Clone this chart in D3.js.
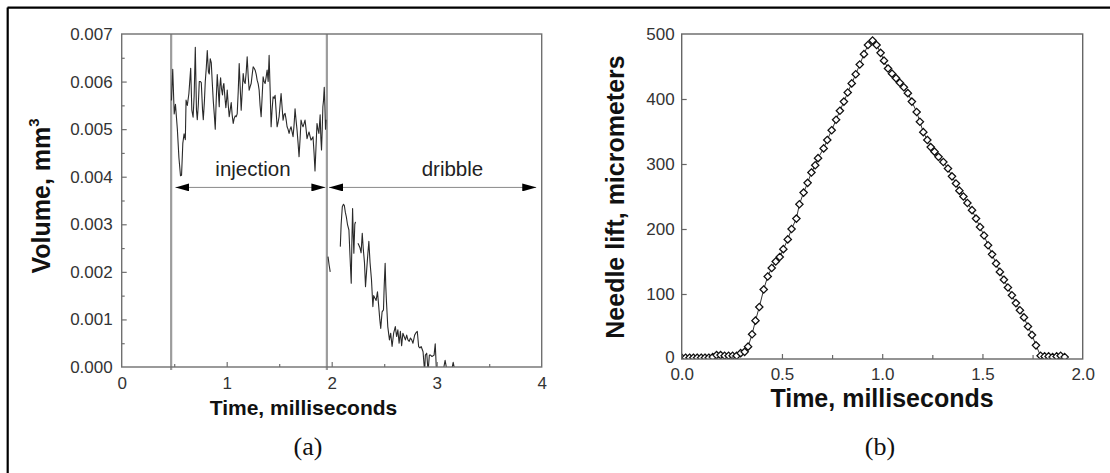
<!DOCTYPE html>
<html>
<head>
<meta charset="utf-8">
<script src="https://cdn.jsdelivr.net/npm/d3@7"></script>
<style>
  html, body { margin: 0; padding: 0; background: #fff; }
  svg { display: block; }
  .tick text { font-family: "Liberation Sans", Arial, sans-serif; fill: #333; }
</style>
</head>
<body>
<svg id="chart" width="1110" height="473"></svg>
<script>
// ---------- Panel (a): volume vs time ----------
const volumeTime = [
  0.474,0.486,0.500,0.512,0.530,0.545,0.560,0.570,0.582,0.594,0.606,0.613,0.625,0.640,0.657,0.668,0.680,0.690,0.701,0.712,
  0.720,0.730,0.739,0.750,0.758,0.770,0.777,0.788,0.796,0.806,0.815,0.826,0.834,0.843,0.853,0.862,0.872,0.882,0.891,0.900,
  0.910,0.920,0.929,0.935,0.942,0.950,0.960,0.966,0.973,0.982,0.992,1.000,1.005,1.015,1.024,1.033,1.043,1.052,1.062,1.071,
  1.081,1.090,1.100,1.110,1.119,1.128,1.138,1.148,1.157,1.166,1.176,1.186,1.195,1.205,1.214,1.224,1.233,1.243,1.252,1.262,
  1.271,1.281,1.290,1.300,1.309,1.318,1.328,1.338,1.347,1.356,1.366,1.376,1.385,1.395,1.404,1.414,1.423,1.432,1.442,1.452,
  1.461,1.470,1.480,1.490,1.499,1.508,1.518,1.528,1.537,1.546,1.556,1.566,1.575,1.584,1.594,1.604,1.613,1.622,1.632,1.642,
  1.651,1.660,1.670,1.680,1.689,1.699,1.708,1.718,1.727,1.737,1.746,1.756,1.765,1.775,1.784,1.794,1.803,1.813,1.822,1.832,
  1.841,1.850,1.860,1.869,1.878,1.890,1.897,1.903,1.910,1.916,1.922,1.929,1.935,1.941,1.946,
  1.955,
  1.965,1.975,1.986,
  2.030,
  2.082,2.090,2.101,2.112,2.120,2.130,2.139,2.150,2.164,2.175,2.186,2.192,2.199,2.205,2.211,2.220,2.227,
  2.238,
  2.250,2.259,2.270,2.280,2.291,2.300,2.312,2.322,2.335,2.345,2.354,2.365,2.379,2.392,2.400,2.411,2.423,2.436,2.448,2.458,
  2.467,2.480,2.493,2.500,2.509,2.515,2.521,2.534,2.550,2.562,2.575,2.590,2.606,2.618,2.630,2.642,2.654,2.666,2.678,2.690,
  2.702,2.714,2.726,2.738,2.750,2.762,2.774,2.790,2.800,2.815,2.828,2.840,2.852,2.870,2.885,2.892,2.905,2.918,2.930,2.942,
  2.955,2.975,2.986,2.998,3.010,3.040,3.060,3.080,3.100,3.140,3.157,3.175
];
const volume = [
  0.00560,0.00626,0.00532,0.00552,0.00500,0.00440,0.00402,0.00403,0.00470,0.00490,0.00478,0.00561,0.00550,0.00575,0.00628,0.00540,0.00525,0.00570,0.00672,0.00540,
  0.00520,0.00553,0.00600,0.00600,0.00598,0.00540,0.00520,0.00560,0.00600,0.00630,0.00665,0.00620,0.00616,0.00648,0.00640,0.00600,0.00560,0.00530,0.00500,0.00560,
  0.00615,0.00580,0.00547,0.00590,0.00608,0.00585,0.00572,0.00590,0.00596,0.00570,0.00545,0.00565,0.00582,0.00550,0.00526,0.00540,0.00556,0.00530,0.00512,0.00522,
  0.00528,0.00526,0.00532,0.00580,0.00638,0.00590,0.00540,0.00580,0.00617,0.00600,0.00596,0.00620,0.00652,0.00610,0.00582,0.00590,0.00596,0.00615,0.00631,0.00628,
  0.00624,0.00615,0.00603,0.00595,0.00582,0.00550,0.00526,0.00570,0.00610,0.00600,0.00596,0.00610,0.00624,0.00600,0.00655,0.00580,0.00505,0.00540,0.00568,0.00565,
  0.00571,0.00540,0.00505,0.00515,0.00526,0.00550,0.00575,0.00545,0.00519,0.00530,0.00533,0.00520,0.00505,0.00500,0.00491,0.00500,0.00505,0.00495,0.00484,0.00510,
  0.00543,0.00520,0.00498,0.00470,0.00442,0.00480,0.00519,0.00510,0.00505,0.00512,0.00519,0.00500,0.00480,0.00488,0.00494,0.00485,0.00477,0.00480,0.00484,0.00450,
  0.00412,0.00460,0.00512,0.00500,0.00491,0.00530,0.00480,0.00456,0.00500,0.00547,0.00560,0.00588,0.00550,0.00500,0.00520,
  null,
  0.00232,0.00215,0.00200,
  null,
  0.00253,0.00300,0.00337,0.00342,0.00340,0.00325,0.00316,0.00300,0.00288,0.00230,0.00176,0.00260,0.00333,0.00280,0.00239,0.00300,0.00305,
  null,
  0.00260,0.00256,0.00250,0.00240,0.00281,0.00250,0.00220,0.00169,0.00210,0.00240,0.00264,0.00220,0.00183,0.00127,0.00150,0.00145,0.00140,0.00158,0.00127,0.00100,
  0.00081,0.00116,0.00120,0.00170,0.00218,0.00170,0.00140,0.00085,0.00057,0.00071,0.00043,0.00071,0.00085,0.00064,0.00078,0.00050,0.00075,0.00045,0.00071,0.00064,
  0.00057,0.00067,0.00057,0.00054,0.00061,0.00057,0.00050,0.00067,0.00071,0.00075,0.00043,0.00040,0.00043,0.00032,-0.00010,0.00025,0.00029,-0.00010,0.00025,0.00025,
  0.00022,0.00025,0.00049,-0.00010,-0.00010,-0.00010,-0.00010,0.00014,-0.00010,-0.00010,0.00010,-0.00010
];
const volumeTicks = [0, 0.001, 0.002, 0.003, 0.004, 0.005, 0.006, 0.007];
const volumeMinorTicks = [0.0005, 0.0015, 0.0025, 0.0035, 0.0045, 0.0055, 0.0065];
const timeTicksA = [0, 1, 2, 3, 4];
const timeMinorTicksA = [0.5, 1.5, 2.5, 3.5];
const phaseBoundaries = [0.471, 1.954];
const phaseLabels = ["injection", "dribble"];
const phaseLabelTime = [1.25, 3.15];
const phaseArrowStart = [0.512, 1.974];
const phaseArrowEnd = [1.940, 3.948];
const phaseArrowLevel = 0.003775;
const phaseLabelLevel = 0.00401;

// ---------- Panel (b): needle lift vs time ----------
const needleTime = [
  0.000,0.019,0.039,0.058,0.077,0.097,0.116,0.135,0.155,0.174,
  0.194,0.214,0.234,0.254,0.274,0.294,0.314,0.331,0.351,0.368,
  0.387,0.409,0.429,0.449,0.469,0.489,0.507,0.529,0.548,0.572,
  0.587,0.608,0.628,0.647,0.666,0.680,0.708,0.726,0.748,0.770,
  0.789,0.809,0.828,0.848,0.868,0.888,0.909,0.929,0.952,0.972,
  0.992,1.009,1.029,1.049,1.069,1.088,1.108,1.128,1.148,1.172,
  1.188,1.205,1.225,1.242,1.261,1.281,1.305,1.328,1.348,1.368,
  1.385,1.405,1.425,1.448,1.468,1.488,1.508,1.528,1.548,1.568,
  1.587,1.607,1.627,1.647,1.667,1.687,1.707,1.727,1.747,1.767,
  1.790,1.810,1.830,1.850,1.870,1.890,1.910
];
const needleLift = [
  2,2,2,2,2,2,2,2,3,6,
  6,5,5,5,5,9,11,19,38,59,
  80,107,127,140,150,157,169,184,200,216,
  238,256,271,287,298,309,324,337,352,368,
  382,396,410,424,438,453,469,483,490,483,
  471,459,447,439,432,425,418,409,396,380,
  365,349,337,326,319,311,303,293,281,270,
  259,250,240,229,216,203,190,175,161,147,
  134,122,110,98,86,75,64,50,37,21,
  5,4,4,3,4,5,3
];
const liftTicks = [0, 100, 200, 300, 400, 500];
const timeTicksB = [0, 0.5, 1.0, 1.5, 2.0];
const timeMinorTicksB = [0.25, 0.75, 1.25, 1.75];

// ---------- Drawing ----------
const svg = d3.select("#chart");
const FONT = '"Liberation Sans", Arial, Helvetica, sans-serif';
const SERIF = '"Liberation Serif", "Times New Roman", serif';

svg.append("rect").attr("width", 1110).attr("height", 473).attr("fill", "#fff");
// outer figure border (top & left visible)
svg.append("line").attr("x1", 7.5).attr("x2", 1110).attr("y1", 7.7).attr("y2", 7.7)
  .attr("stroke", "#000").attr("stroke-width", 2.2);
svg.append("line").attr("x1", 7.7).attr("x2", 7.7).attr("y1", 7.5).attr("y2", 473)
  .attr("stroke", "#000").attr("stroke-width", 2.2);

const defs = svg.append("defs");
defs.append("marker").attr("id", "arrowHead")
  .attr("viewBox", "0 0 14 8").attr("refX", 14).attr("refY", 4)
  .attr("markerWidth", 14).attr("markerHeight", 8).attr("markerUnits", "userSpaceOnUse")
  .attr("orient", "auto-start-reverse")
  .append("path").attr("d", "M0,0 L14,4 L0,8 Z").attr("fill", "#000");

function styleAxis(g, frameColor) {
  g.select(".domain").remove();
  g.selectAll(".tick line").attr("stroke", frameColor).attr("stroke-width", 1.2);
}

// ===== Panel A =====
const A = { left: 121.7, right: 541.7, top: 34, bottom: 367 };
const xA = d3.scaleLinear().domain([0, 4]).range([A.left, A.right]);
const yA = d3.scaleLinear().domain([0, 0.007]).range([A.bottom, A.top]);
const gA = svg.append("g");
const frameA = "#707070";

defs.append("clipPath").attr("id", "clipA").append("rect")
  .attr("x", A.left).attr("y", A.top).attr("width", A.right - A.left).attr("height", A.bottom - A.top);

// phase boundary lines (gray)
gA.selectAll("line.phase").data(phaseBoundaries).join("line")
  .attr("class", "phase")
  .attr("x1", d => xA(d)).attr("x2", d => xA(d))
  .attr("y1", A.top).attr("y2", A.bottom + 3)
  .attr("stroke", "#9c9c9c").attr("stroke-width", 2.2);

// data line
const volData = volumeTime.map((t, i) => ({ t, v: volume[i] }));
gA.append("path").datum(volData)
  .attr("clip-path", "url(#clipA)")
  .attr("fill", "none").attr("stroke", "#2a2a2a").attr("stroke-width", 1.1)
  .attr("stroke-linejoin", "round")
  .attr("d", d3.line().defined(d => d.v !== null).x(d => xA(d.t)).y(d => yA(d.v)));

// arrows
phaseLabels.forEach((lab, i) => {
  gA.append("line")
    .attr("x1", xA(phaseArrowStart[i])).attr("x2", xA(phaseArrowEnd[i]))
    .attr("y1", yA(phaseArrowLevel)).attr("y2", yA(phaseArrowLevel))
    .attr("stroke", "#8a8a8a").attr("stroke-width", 1)
    .attr("marker-start", "url(#arrowHead)").attr("marker-end", "url(#arrowHead)");
  gA.append("text")
    .attr("x", xA(phaseLabelTime[i])).attr("y", yA(phaseLabelLevel))
    .attr("text-anchor", "middle").attr("font-family", FONT).attr("font-size", 20.5)
    .attr("fill", "#222").text(lab);
});

// axes
const axA_b = gA.append("g").attr("transform", `translate(0,${A.bottom})`)
  .call(d3.axisBottom(xA).tickValues(timeTicksA).tickFormat(d3.format("d")).tickSize(-5).tickPadding(10));
const axA_bm = gA.append("g").attr("transform", `translate(0,${A.bottom})`)
  .call(d3.axisBottom(xA).tickValues(timeMinorTicksA).tickFormat("").tickSize(-3));
const axA_l = gA.append("g").attr("transform", `translate(${A.left},0)`)
  .call(d3.axisLeft(yA).tickValues(volumeTicks).tickFormat(d3.format(".3f")).tickSize(-5).tickPadding(9));
const axA_lm = gA.append("g").attr("transform", `translate(${A.left},0)`)
  .call(d3.axisLeft(yA).tickValues(volumeMinorTicks).tickFormat("").tickSize(-3));
[axA_b, axA_bm, axA_l, axA_lm].forEach(g => styleAxis(g, frameA));
[axA_b, axA_l].forEach(g => g.selectAll(".tick text").attr("font-size", 17).attr("font-family", FONT));
axA_b.selectAll(".tick").filter(d => d === 0 || d === 4).select("line").remove();
axA_l.selectAll(".tick").filter(d => d === 0 || d === 0.007).select("line").remove();

gA.append("rect").attr("x", A.left).attr("y", A.top)
  .attr("width", A.right - A.left).attr("height", A.bottom - A.top)
  .attr("fill", "none").attr("stroke", frameA).attr("stroke-width", 1.4);

// titles
gA.append("text").attr("x", 303.5).attr("y", 415)
  .attr("text-anchor", "middle").attr("font-family", FONT).attr("font-weight", "bold")
  .attr("font-size", 21).attr("fill", "#111").text("Time, milliseconds");
const yTitleA = gA.append("text").attr("transform", "translate(50,196) rotate(-90)")
  .attr("text-anchor", "middle").attr("font-family", FONT).attr("font-weight", "bold")
  .attr("font-size", 25).attr("fill", "#111");
yTitleA.append("tspan").text("Volume, mm");
yTitleA.append("tspan").attr("font-size", 15).attr("dy", -11).text("3");

svg.append("text").attr("x", 308).attr("y", 455).attr("text-anchor", "middle")
  .attr("font-family", SERIF).attr("font-size", 26).attr("fill", "#111").text("(a)");

// ===== Panel B =====
const B = { left: 681.7, right: 1082.7, top: 34, bottom: 359 };
const xB = d3.scaleLinear().domain([0, 2]).range([B.left, B.right]);
const yB = d3.scaleLinear().domain([0, 500]).range([B.bottom, B.top]);
const gB = svg.append("g");
const frameB = "#666";

defs.append("clipPath").attr("id", "clipB").append("rect")
  .attr("x", B.left).attr("y", B.top - 6).attr("width", B.right - B.left).attr("height", B.bottom - B.top + 6);

const liftData = needleTime.map((t, i) => ({ t, v: needleLift[i] }));
gB.append("path").datum(liftData)
  .attr("clip-path", "url(#clipB)")
  .attr("fill", "none").attr("stroke", "#333").attr("stroke-width", 1)
  .attr("d", d3.line().x(d => xB(d.t)).y(d => yB(d.v)));

const diamond = d3.symbol().type(d3.symbolDiamond2).size(34);
gB.append("g").attr("clip-path", "url(#clipB)").selectAll("path").data(liftData).join("path")
  .attr("transform", d => `translate(${xB(d.t)},${yB(d.v)})`)
  .attr("d", diamond)
  .attr("fill", "#fff").attr("stroke", "#111").attr("stroke-width", 1.3);

const axB_b = gB.append("g").attr("transform", `translate(0,${B.bottom})`)
  .call(d3.axisBottom(xB).tickValues(timeTicksB).tickFormat(d3.format(".1f")).tickSize(-5).tickPadding(9));
const axB_bm = gB.append("g").attr("transform", `translate(0,${B.bottom})`)
  .call(d3.axisBottom(xB).tickValues(timeMinorTicksB).tickFormat("").tickSize(-4));
const axB_l = gB.append("g").attr("transform", `translate(${B.left},0)`)
  .call(d3.axisLeft(yB).tickValues(liftTicks).tickFormat(d3.format("d")).tickSize(-5).tickPadding(7));
[axB_b, axB_bm, axB_l].forEach(g => styleAxis(g, frameB));
[axB_b, axB_l].forEach(g => g.selectAll(".tick text").attr("font-size", 17).attr("font-family", FONT));
axB_b.selectAll(".tick").filter(d => d === 0 || d === 2).select("line").remove();
axB_l.selectAll(".tick").filter(d => d === 0 || d === 500).select("line").remove();
// keep the y "0" label clear of the x "0.0" label
axB_l.selectAll(".tick").filter(d => d === 0).select("text").attr("dy", "0.2em");

gB.append("rect").attr("x", B.left).attr("y", B.top)
  .attr("width", B.right - B.left).attr("height", B.bottom - B.top)
  .attr("fill", "none").attr("stroke", frameB).attr("stroke-width", 1.4);

gB.append("text").attr("x", 882).attr("y", 407)
  .attr("text-anchor", "middle").attr("font-family", FONT).attr("font-weight", "bold")
  .attr("font-size", 25).attr("fill", "#111").text("Time, milliseconds");
gB.append("text").attr("transform", "translate(624,197) rotate(-90)")
  .attr("text-anchor", "middle").attr("font-family", FONT).attr("font-weight", "bold")
  .attr("font-size", 25).attr("fill", "#111").text("Needle lift, micrometers");

svg.append("text").attr("x", 880).attr("y", 455).attr("text-anchor", "middle")
  .attr("font-family", SERIF).attr("font-size", 26).attr("fill", "#111").text("(b)");
</script>
</body>
</html>
